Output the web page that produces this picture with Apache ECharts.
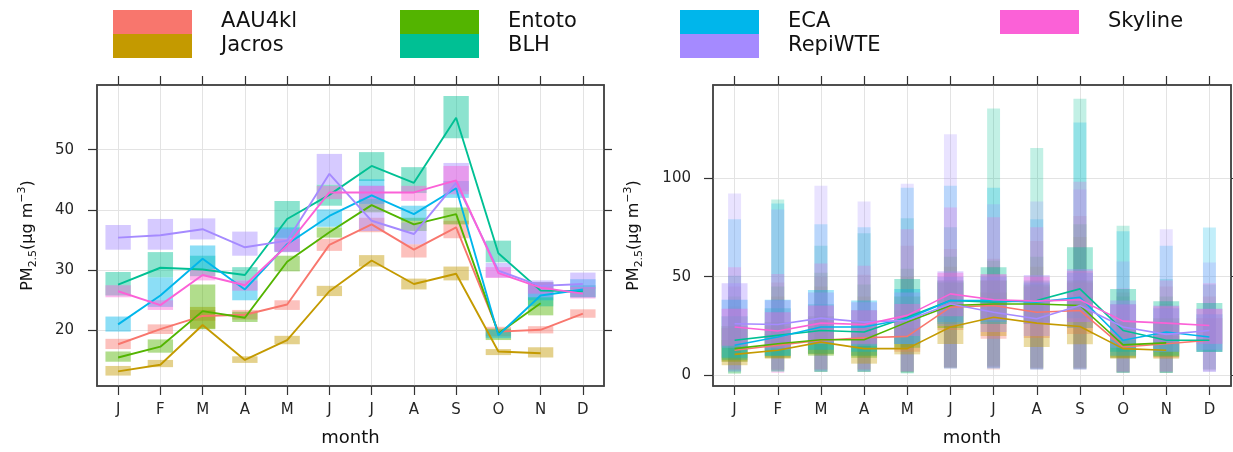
<!DOCTYPE html>
<html><head><meta charset="utf-8">
<script src="https://cdn.jsdelivr.net/npm/echarts@6/dist/echarts.min.js"></script>
<style>html,body{margin:0;padding:0;background:#fff}#c{width:1233px;height:452px}</style>
</head><body><div id="c"></div>
<script>
// ---------- data ----------
const categories = ['Jan','Feb','Mar','Apr','May','Jun','Jul','Aug','Sep','Oct','Nov','Dec'];
const monthLabels = ['J','F','M','A','M','J','J','A','S','O','N','D'];
const sites = ['AAU4kl','Jacros','Entoto','BLH','ECA','RepiWTE','Skyline'];
const leftTicks = [20, 30, 40, 50];
const rightTicks = [0, 50, 100];

// left panel: monthly mean and its confidence interval
const AAU4kl_mean = [17.7, 20.2, 22.4, 22.6, 24.3, 34.2, 37.6, 33.4, 37.1, 19.8, 20.1, 22.8];
const AAU4kl_lo   = [16.9, 19.4, 21.6, 21.8, 23.4, 33.2, 36.3, 32.1, 35.3, 19.0, 19.5, 22.1];
const AAU4kl_hi   = [18.6, 21.0, 23.4, 23.4, 25.0, 35.2, 38.7, 34.3, 38.2, 20.6, 20.7, 23.5];
const Jacros_mean = [13.2, 14.3, 20.9, 15.1, 18.4, 26.5, 31.6, 27.7, 29.4, 16.5, 16.2, null];
const Jacros_lo   = [12.5, 13.9, 20.3, 14.6, 17.7, 25.7, 30.6, 26.8, 28.3, 15.9, 15.5, null];
const Jacros_hi   = [14.1, 15.1, 23.9, 15.7, 19.1, 27.4, 32.5, 28.6, 30.6, 16.9, 17.2, null];
const Entoto_mean = [15.5, 17.3, 23.2, 22.1, 31.4, 36.3, 40.8, 37.6, 39.3, 19.5, 24.5, null];
const Entoto_lo   = [14.8, 16.3, 20.2, 21.4, 29.8, 35.4, 39.6, 36.5, 37.6, 18.4, 22.5, null];
const Entoto_hi   = [16.5, 18.5, 27.6, 23.1, 32.4, 37.1, 41.8, 38.7, 40.4, 20.3, 25.5, null];
const BLH_mean    = [27.6, 30.4, 30.1, 29.2, 38.5, 42.5, 47.3, 44.5, 55.3, 32.8, 26.6, 26.5];
const BLH_lo      = [25.8, 28.8, 29.0, 28.3, 35.4, 40.7, 44.8, 42.8, 51.9, 31.3, 24.0, 25.5];
const BLH_hi      = [29.7, 33.0, 32.4, 30.5, 41.5, 44.2, 49.6, 47.1, 58.9, 34.9, 28.0, 27.5];
const ECA_mean    = [21.0, 25.8, 31.9, 26.8, 34.3, 39.0, 42.4, 39.3, 43.6, 19.2, 25.8, 26.8];
const ECA_lo      = [19.8, 23.9, 30.2, 25.0, 33.0, 37.2, 41.0, 38.2, 42.0, 18.7, 25.0, 25.5];
const ECA_hi      = [22.3, 28.8, 34.1, 28.3, 37.1, 40.1, 45.1, 40.7, 44.8, 20.1, 28.0, 28.5];
const RepiWTE_mean= [35.4, 35.8, 36.8, 33.8, 34.9, 46.0, 38.2, 36.0, 44.5, 29.9, 27.4, 27.7];
const RepiWTE_lo  = [33.4, 33.4, 35.1, 32.4, 33.2, 44.2, 36.5, 34.3, 43.1, 28.8, 25.5, 26.9];
const RepiWTE_hi  = [37.5, 38.5, 38.6, 36.4, 36.8, 49.3, 44.0, 37.9, 47.8, 31.2, 28.3, 29.6];
const Skyline_mean= [26.5, 24.2, 29.2, 27.5, 34.1, 42.9, 42.9, 42.9, 44.9, 29.5, 27.1, 26.1];
const Skyline_lo  = [25.5, 23.4, 28.3, 26.6, 33.0, 41.8, 41.8, 41.5, 42.6, 28.7, 26.1, 25.3];
const Skyline_hi  = [27.5, 25.0, 30.2, 28.3, 35.2, 44.0, 44.0, 44.0, 47.3, 30.5, 28.0, 27.2];

// right panel: median, 25/75 and 5/95 percentiles
const AAU4kl_q50 = [12.8, 15.3, 17.8, 19.1, 19.8, 34.6, 35.4, 32.0, 32.9, 14.4, 16.1, 17.8];
const AAU4kl_q25 = [7, 9, 11, 10, 12, 23, 18.6, 19, 21, 9, 9, 12];
const AAU4kl_q75 = [24, 25, 29, 27, 33, 48, 48, 45, 47, 28, 27, 29];
const AAU4kl_q05 = [2, 2.5, 2, 2, 2, 3.5, 3, 3, 3, 1.5, 2, 3];
const AAU4kl_q95 = [45, 47, 50, 51, 65.6, 64, 59, 68, 80.7, 42, 45, 40];
const Jacros_q50 = [10.7, 12.8, 16.9, 13.6, 13.6, 24.5, 29.5, 26.5, 24.8, 13.6, 12.8, null];
const Jacros_q25 = [5.2, 8.5, 10.7, 6, 10.7, 16, 20, 14.4, 15.8, 8.5, 8.5, null];
const Jacros_q75 = [18, 21, 25, 21, 24, 36, 42, 38, 40, 21, 20, null];
const Jacros_q05 = [3, 3, 3, 3, 1.5, 4, 5, 4, 4, 1.5, 1.5, null];
const Jacros_q95 = [35, 40, 45, 40, 50, 55, 55, 55, 70, 35, 36, null];
const Entoto_q50 = [13.6, 16.1, 18.1, 18.1, 27.0, 35.4, 36.2, 36.2, 35.4, 15.5, 16.5, null];
const Entoto_q25 = [7, 9, 10, 9, 14, 24, 26, 26, 24, 9, 9.5, null];
const Entoto_q75 = [25, 27, 30, 28, 40, 47, 48, 46, 48, 27, 29, null];
const Entoto_q05 = [1, 2, 1.8, 1.8, 1.5, 4, 4, 3.5, 3.5, 1.5, 1.3, null];
const Entoto_q95 = [40, 45, 52, 46, 54, 60, 58, 60, 76.5, 40, 40, null];
const BLH_q50 = [17.8, 20.3, 22.8, 22.0, 29.5, 37.9, 37.1, 37.9, 43.8, 22.8, 17.8, 17.8];
const BLH_q25 = [8, 10, 11, 10, 16, 26, 26, 27, 29, 12, 10, 11.9];
const BLH_q75 = [30, 34, 36, 33, 48.8, 48, 54.7, 48, 64.8, 43.8, 37.6, 36.7];
const BLH_q05 = [1, 2, 1.8, 1.8, 1, 4, 4, 3.5, 3.5, 1.3, 1.3, 3];
const BLH_q95 = [50.5, 89, 65.6, 72, 79.5, 75, 135, 115, 140, 75.7, 48.8, 46];
const ECA_q50 = [15.3, 19.5, 24.5, 24.5, 28.7, 37.9, 37.9, 37.1, 39.6, 17.8, 22.0, 19.5];
const ECA_q25 = [9, 10, 13, 12, 16, 27, 27, 26, 27, 10, 12, 12];
const ECA_q75 = [38.3, 38.3, 43.3, 37.9, 43.8, 50, 50, 47, 52, 36, 34, 31];
const ECA_q05 = [2, 2, 2, 2, 1.5, 3.5, 3.5, 3, 3, 1.5, 1.5, 2];
const ECA_q95 = [79, 87, 76.5, 75, 95, 96, 95, 79, 128, 73, 65.6, 74.8];
const RepiWTE_q50 = [26.2, 25.8, 29.0, 27.0, 27.9, 36.2, 32.0, 28.7, 35.4, 24.5, 20.8, 22.8];
const RepiWTE_q25 = [14, 13, 16, 15, 16, 25, 22, 20, 24, 14, 12, 13];
const RepiWTE_q75 = [46.6, 38, 42, 37, 42, 52.7, 51, 50.8, 53.9, 37.9, 35.4, 33.7];
const RepiWTE_q05 = [2, 3, 2, 2, 2, 3.5, 3.5, 3, 3, 1.5, 1.5, 1.8];
const RepiWTE_q95 = [92, 84, 96, 88, 97, 122, 86.6, 88, 94, 57.6, 74, 57.2];
const Skyline_q50 = [24.5, 22.5, 26.5, 25.8, 30.4, 41.3, 38.3, 37.6, 38.3, 27.5, 26.5, 25.3];
const Skyline_q25 = [15, 14, 17, 16, 20, 30, 28, 26, 27, 18, 17, 16];
const Skyline_q75 = [33.7, 32, 35.4, 33, 36.2, 52, 51.3, 50, 53, 36, 35, 33.7];
const Skyline_q05 = [3, 1.3, 3, 3, 2, 4, 4, 3.5, 3.5, 2, 2, 2];
const Skyline_q95 = [54.7, 51.3, 56.7, 55.5, 74, 85, 80, 75, 98, 44, 48, 46.6];

// ---------- assembly ----------
const siteData = {
  AAU4kl: {mean: AAU4kl_mean, lo: AAU4kl_lo, hi: AAU4kl_hi, q05: AAU4kl_q05, q25: AAU4kl_q25, q50: AAU4kl_q50, q75: AAU4kl_q75, q95: AAU4kl_q95},
  Jacros: {mean: Jacros_mean, lo: Jacros_lo, hi: Jacros_hi, q05: Jacros_q05, q25: Jacros_q25, q50: Jacros_q50, q75: Jacros_q75, q95: Jacros_q95},
  Entoto: {mean: Entoto_mean, lo: Entoto_lo, hi: Entoto_hi, q05: Entoto_q05, q25: Entoto_q25, q50: Entoto_q50, q75: Entoto_q75, q95: Entoto_q95},
  BLH: {mean: BLH_mean, lo: BLH_lo, hi: BLH_hi, q05: BLH_q05, q25: BLH_q25, q50: BLH_q50, q75: BLH_q75, q95: BLH_q95},
  ECA: {mean: ECA_mean, lo: ECA_lo, hi: ECA_hi, q05: ECA_q05, q25: ECA_q25, q50: ECA_q50, q75: ECA_q75, q95: ECA_q95},
  RepiWTE: {mean: RepiWTE_mean, lo: RepiWTE_lo, hi: RepiWTE_hi, q05: RepiWTE_q05, q25: RepiWTE_q25, q50: RepiWTE_q50, q75: RepiWTE_q75, q95: RepiWTE_q95},
  Skyline: {mean: Skyline_mean, lo: Skyline_lo, hi: Skyline_hi, q05: Skyline_q05, q25: Skyline_q25, q50: Skyline_q50, q75: Skyline_q75, q95: Skyline_q95}
};
const siteColors = {AAU4kl:'#F8766D', Jacros:'#C49A00', Entoto:'#53B400', BLH:'#00C094', ECA:'#00B6EB', RepiWTE:'#A58AFF', Skyline:'#FB61D7'};

const FONT = 'DejaVu Sans';

function boxSeries(name, xi, yi, lo, hi, frac, color, alpha, z) {
  const data = [];
  lo.forEach((v, i) => { if (v != null && hi[i] != null) data.push([i, v, hi[i]]); });
  return {
    type: 'custom', name, xAxisIndex: xi, yAxisIndex: yi, z, silent: true,
    encode: {x: 0, y: [1, 2]}, data, itemStyle: {color},
    renderItem: (params, api) => {
      const x = api.value(0);
      const top = api.coord([x, api.value(2)]);
      const bot = api.coord([x, api.value(1)]);
      const w = api.size([1, 0])[0] * frac;
      return {type: 'rect', shape: {x: top[0] - w / 2, y: top[1], width: w, height: bot[1] - top[1]},
              style: {fill: color, opacity: alpha}};
    }
  };
}
function lineSeries(name, xi, yi, vals, color, width) {
  return {type: 'line', name, xAxisIndex: xi, yAxisIndex: yi, data: vals, symbol: 'none', silent: true,
          connectNulls: false, z: 6, lineStyle: {color, width}, itemStyle: {color}};
}

const series = [];
sites.forEach(s => {
  const d = siteData[s], c = siteColors[s];
  series.push(boxSeries(s, 0, 0, d.lo, d.hi, 0.6, c, 0.45, 2));
  series.push(boxSeries(s, 2, 2, d.q05, d.q95, 0.3, c, 0.24, 2));
  series.push(boxSeries(s, 2, 2, d.q25, d.q75, 0.6, c, 0.36, 3));
});
sites.forEach(s => {
  const d = siteData[s], c = siteColors[s];
  series.push(lineSeries(s, 0, 0, d.mean, c, 1.9));
  series.push(lineSeries(s, 2, 2, d.q50, c, 1.6));
});

const axisTextColor = '#262626';
function bottomX(grid) {
  return {type: 'category', gridIndex: grid, position: 'bottom', data: categories, boundaryGap: true,
    axisLine: {show: true, onZero: false, lineStyle: {color: '#444', width: 1.5}},
    axisTick: {show: true, alignWithLabel: true, length: 9, lineStyle: {color: '#333', width: 1.2}},
    axisLabel: {show: true, margin: 17, fontFamily: FONT, fontSize: 15, color: axisTextColor,
                formatter: (v, i) => monthLabels[i]},
    splitLine: {show: true, alignWithLabel: true, lineStyle: {color: '#e3e3e3', width: 1}},
    name: 'month', nameLocation: 'middle', nameGap: 43,
    nameTextStyle: {fontFamily: FONT, fontSize: 18, color: '#111'}};
}
function topX(grid) {
  return {type: 'category', gridIndex: grid, position: 'top', data: categories, boundaryGap: true,
    axisLine: {show: true, onZero: false, lineStyle: {color: '#444', width: 1.5}},
    axisTick: {show: true, alignWithLabel: true, length: 9, lineStyle: {color: '#333', width: 1.2}},
    axisLabel: {show: false}, splitLine: {show: false}};
}
const yName = '{a|PM}{s|2.5}{a|(μg m}{p|−3}{a|)}';
const yNameStyle = {fontFamily: FONT, color: '#111', rich: {
  a: {fontFamily: FONT, fontSize: 16, lineHeight: 22, color: '#111'},
  s: {fontFamily: FONT, fontSize: 11, lineHeight: 12, verticalAlign: 'bottom', color: '#111'},
  p: {fontFamily: FONT, fontSize: 11, lineHeight: 12, verticalAlign: 'top', color: '#111'}}};
function leftY(grid, min, max, ticks, margin, gap) {
  return {type: 'value', gridIndex: grid, position: 'left', min, max,
    axisLine: {show: true, lineStyle: {color: '#444', width: 1.5}},
    axisTick: {show: true, length: 9, customValues: ticks, lineStyle: {color: '#333', width: 1.2}},
    axisLabel: {show: true, customValues: ticks, margin, fontFamily: FONT, fontSize: 15, color: axisTextColor},
    splitLine: {show: true, lineStyle: {color: '#e3e3e3', width: 1}},
    name: yName, nameLocation: 'middle', nameRotate: 90, nameGap: gap, nameTextStyle: yNameStyle};
}
function rightY(grid, min, max, ticks) {
  return {type: 'value', gridIndex: grid, position: 'right', min, max,
    axisLine: {show: true, lineStyle: {color: '#444', width: 1.5}},
    axisTick: {show: true, length: 8, customValues: ticks, lineStyle: {color: '#333', width: 1.2}},
    axisLabel: {show: false}, splitLine: {show: false}};
}

function legend(names, left) {
  return {show: true, orient: 'vertical', left, top: 10, itemWidth: 79, itemHeight: 24, itemGap: 0,
    selectedMode: false, icon: 'rect', padding: 0,
    textStyle: {fontFamily: FONT, fontSize: 21, color: '#111', padding: [0, 0, 0, 24]},
    data: names.map(n => ({name: n, icon: 'rect', itemStyle: {color: siteColors[n], opacity: 1, borderWidth: 0}}))};
}

const option = {
  animation: false,
  backgroundColor: '#fff',
  legend: [legend(['AAU4kl', 'Jacros'], 113), legend(['Entoto', 'BLH'], 400),
           legend(['ECA', 'RepiWTE'], 680), legend(['Skyline'], 1000)],
  grid: [
    {left: 97, top: 85, width: 507, height: 303, show: true, borderColor: '#444', borderWidth: 1.5},
    {left: 713, top: 85, width: 518, height: 303, show: true, borderColor: '#444', borderWidth: 1.5}
  ],
  xAxis: [bottomX(0), topX(0), bottomX(1), topX(1)],
  yAxis: [leftY(0, 10.77, 60.74, leftTicks, 23, 58), rightY(0, 10.77, 60.74, leftTicks),
          leftY(1, -5.3, 146.9, rightTicks, 22, 68), rightY(1, -5.3, 146.9, rightTicks)],
  series
};
const chart = echarts.init(document.getElementById('c'), null, {renderer: 'canvas'});
chart.setOption(option);
</script></body></html>
